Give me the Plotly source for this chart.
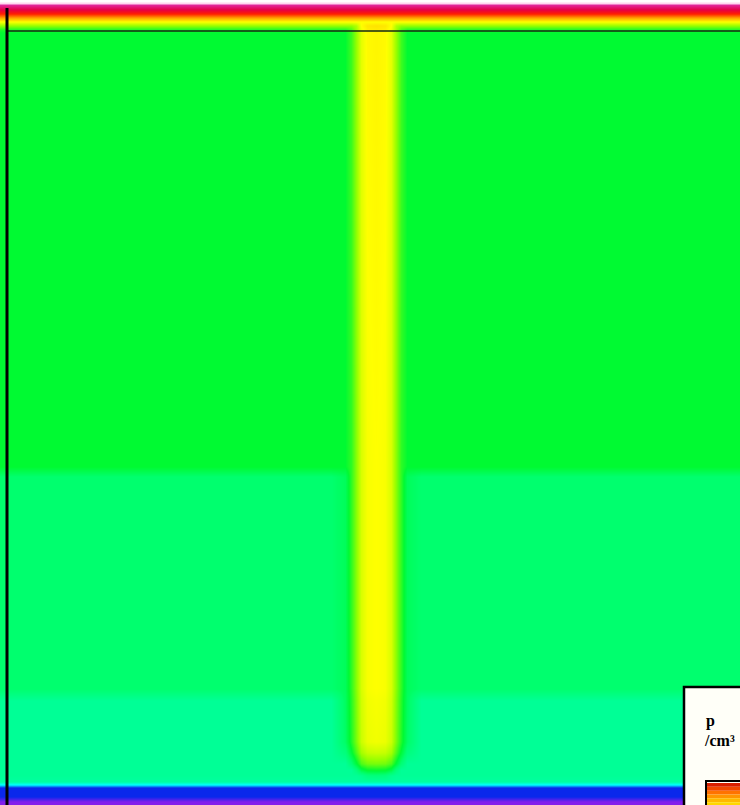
import plotly.graph_objects as go

# ---- data (log10 of hole density p, in /cm^3) ----
depth_um = [-0.28, -0.27, -0.22, -0.18, -0.14, -0.10, -0.06, -0.02, 0.01,
            4.35, 4.45, 6.57, 6.69, 7.10, 7.21, 7.32, 7.38, 7.44, 7.50,
            7.53, 7.56, 7.65, 7.70, 7.80]
bg_logp = [20.0, 19.4, 18.7, 18.0, 17.0, 16.0, 15.2, 14.4, 14.2,
           14.2, 13.6, 13.6, 13.0, 13.0, 13.0, 13.0, 13.0, 13.0, 12.9,
           12.0, 10.8, 10.8, 10.0, 10.0]
col_peak_logp = [None, None, None, None, None, None, 16.3, 16.2, 16.1,
                 16.0, 16.0, 16.0, 15.95, 15.9, 15.6, 15.0, 14.3, 13.4, None,
                 None, None, None, None, None]
col_center_um = 3.69
lat_offset_um = [0.0, 0.09, 0.15, 0.20, 0.25, 0.31, 0.45]
lat_drop = [0.0, 0.05, 0.3, 0.9, 1.5, 2.2, 3.5]
device_width_um = 7.40

legend_bar_colors = ["rgb(215,30,0)", "rgb(240,70,0)", "rgb(255,115,0)",
                     "rgb(255,150,0)", "rgb(255,185,0)", "rgb(255,215,0)"]

# ---- build grid ----
xs = [0.0] + [col_center_um - o for o in reversed(lat_offset_um)] + \
     [col_center_um + o for o in lat_offset_um[1:]] + [device_width_um]
drops = [None] + list(reversed(lat_drop)) + lat_drop[1:] + [None]

z = []
for bg, pk in zip(bg_logp, col_peak_logp):
    row = []
    for d in drops:
        if pk is None or d is None:
            row.append(bg)
        else:
            row.append(max(bg, pk - d))
    z.append(row)

cscale = [
    [0.00, "rgb(130,30,235)"],
    [0.08, "rgb(10,40,235)"],
    [0.20, "rgb(0,255,255)"],
    [0.30, "rgb(0,255,150)"],
    [0.36, "rgb(0,255,110)"],
    [0.42, "rgb(0,250,50)"],
    [0.52, "rgb(150,255,0)"],
    [0.60, "rgb(255,255,0)"],
    [0.70, "rgb(255,160,0)"],
    [0.80, "rgb(255,30,0)"],
    [0.87, "rgb(230,0,70)"],
    [0.94, "rgb(225,40,160)"],
    [1.00, "rgb(255,215,240)"],
]

fig = go.Figure()
fig.add_trace(go.Heatmap(x=xs, y=depth_um, z=z, colorscale=cscale,
                         zmin=10, zmax=20, zsmooth="best", showscale=False,
                         hoverinfo="skip"))

W, H = 740, 805
fig.update_layout(
    width=W, height=H, margin=dict(l=0, r=0, t=0, b=0),
    paper_bgcolor="white", plot_bgcolor="white", showlegend=False,
    xaxis=dict(range=[-0.07, 7.33], visible=False),
    yaxis=dict(range=[7.74, -0.31], visible=False),
)

def py(p):  # pixel row from top -> paper y
    return (H - p) / H

shapes = [
    dict(type="line", xref="x", yref="y", x0=0, x1=7.33, y0=0, y1=0,
         line=dict(color="rgb(20,40,20)", width=1.5)),
    dict(type="line", xref="x", yref="y", x0=0, x1=0, y0=-0.23, y1=7.74,
         line=dict(color="black", width=3)),
    dict(type="rect", xref="paper", yref="paper",
         x0=684 / W, x1=1.01, y0=-0.01, y1=py(687),
         fillcolor="rgb(255,255,248)", line=dict(color="black", width=2.5),
         layer="above"),
]
n = len(legend_bar_colors)
top, bot = 783, 806
for i, c in enumerate(legend_bar_colors):
    y0 = top + (bot - top) * i / n
    y1 = top + (bot - top) * (i + 1) / n
    shapes.append(dict(type="rect", xref="paper", yref="paper",
                       x0=707 / W, x1=1.01, y0=py(y1), y1=py(y0),
                       fillcolor=c, line=dict(width=0), layer="above"))
shapes.append(dict(type="rect", xref="paper", yref="paper",
                   x0=706 / W, x1=1.01, y0=-0.01, y1=py(781),
                   line=dict(color="black", width=2), layer="above"))
fig.update_layout(shapes=shapes)
fig.add_annotation(xref="paper", yref="paper", x=705 / W, y=py(711),
                   text="<b>p</b>", showarrow=False, xanchor="left",
                   yanchor="top", borderpad=0,
                   font=dict(family="Liberation Serif", size=16, color="black"))
fig.add_annotation(xref="paper", yref="paper", x=703 / W, y=py(731),
                   text="<b>/cm³</b>", showarrow=False, xanchor="left",
                   yanchor="top", borderpad=0,
                   font=dict(family="Liberation Serif", size=16, color="black"))

fig.write_html("out.html", config={"displayModeBar": False},
               post_script="document.body.style.margin='0';"
                           "document.body.style.overflow='hidden';")
